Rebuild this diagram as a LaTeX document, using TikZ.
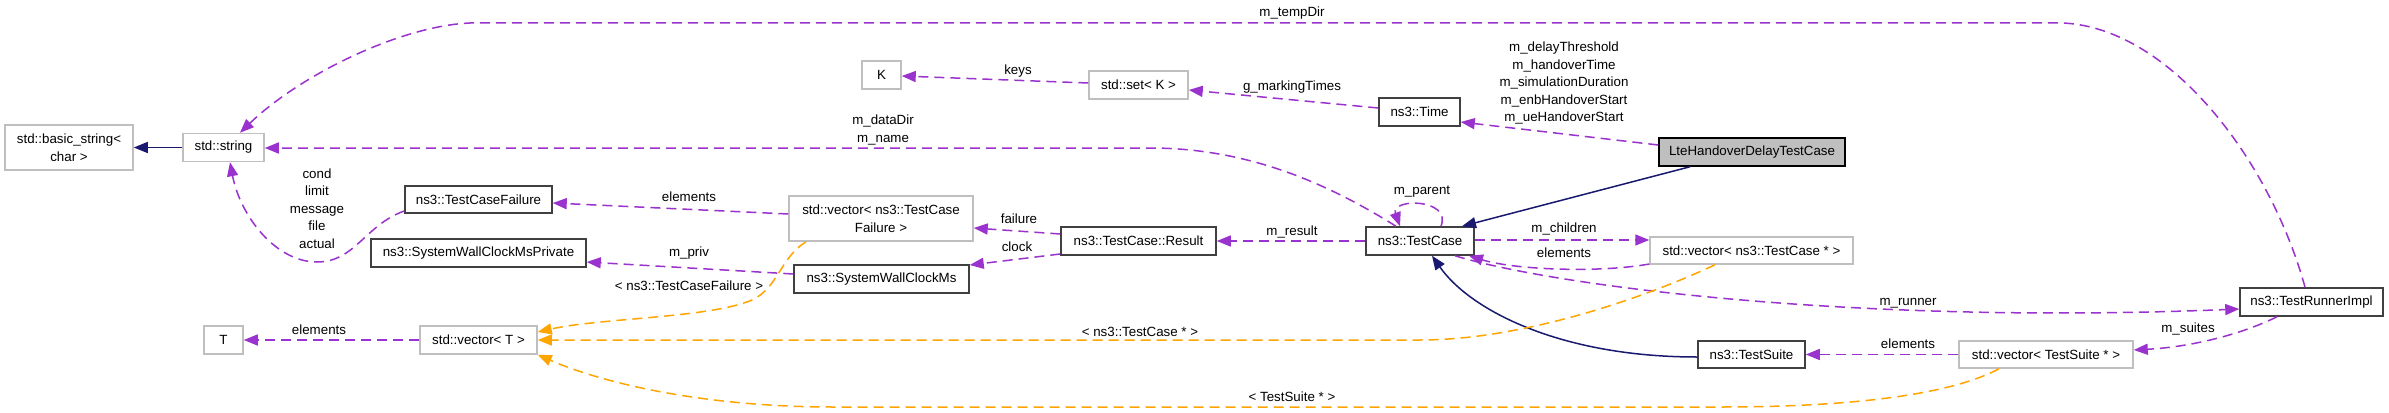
\documentclass[tikz,border=0pt]{standalone}
\usepackage{fontspec}
\setmainfont{Liberation Sans}
\usetikzlibrary{arrows.meta}
\definecolor{memc}{HTML}{9A32CD}
\definecolor{inhc}{HTML}{191970}
\definecolor{tplc}{HTML}{FFA500}
\definecolor{gborder}{HTML}{BFBFBF}
\definecolor{dborder}{HTML}{404040}
\begin{document}
\begin{tikzpicture}[x=1pt,y=-1pt,
  every node/.style={font=\fontsize{13.33}{17.5}\selectfont, inner sep=0pt, align=center},
  box/.style={draw, line width=1.5pt, minimum height=28pt},
  docbox/.style={box, draw=dborder},
  extbox/.style={box, draw=gborder},
  tipstyle/.style={-{Triangle[length=14pt,width=11pt]}},
  memedge/.style={draw=memc, line width=1.5pt, dash pattern=on 10pt off 6pt, tipstyle},
  tpledge/.style={draw=tplc, line width=1.5pt, dash pattern=on 10pt off 6pt, tipstyle},
  inhedge/.style={draw=inhc, line width=1.5pt, tipstyle},
  lbl/.style={text=black}
]
\useasboundingbox (0,0) rectangle (2389,412);
\fill[white] (0,0) rectangle (2389,412);

% nodes
\node[extbox, minimum width=128pt, minimum height=45pt] (basic) at (69,147.5) {std::basic\_string<\\char >};
\node[extbox, minimum width=81pt] (str) at (223.5,147.5) {std::string};
\node[extbox, minimum width=39pt] (K) at (881.5,75) {K};
\node[extbox, minimum width=99pt] (set) at (1138.5,85) {std::set< K >};
\node[docbox, minimum width=81pt] (time) at (1419.5,112) {ns3::Time};
\node[box, fill=gborder, draw=black, minimum width=186pt] (lte) at (1752,152) {LteHandoverDelayTestCase};
\node[docbox, minimum width=108pt] (tc) at (1420,241) {ns3::TestCase};
\node[docbox, minimum width=155pt] (res) at (1138.5,241) {ns3::TestCase::Result};
\node[extbox, minimum width=184pt, minimum height=45pt] (vtcf) at (881,218.5) {std::vector< ns3::TestCase\\Failure >};
\node[docbox, minimum width=147pt, minimum height=27pt] (tcf) at (478.5,199.5) {ns3::TestCaseFailure};
\node[docbox, minimum width=215pt] (swp) at (478.5,253) {ns3::SystemWallClockMsPrivate};
\node[docbox, minimum width=175pt] (swc) at (881.5,279) {ns3::SystemWallClockMs};
\node[extbox, minimum width=39pt] (T) at (223.5,340) {T};
\node[extbox, minimum width=117pt] (vt) at (478.5,340) {std::vector< T >};
\node[extbox, minimum width=203pt, minimum height=27pt] (vtc) at (1751.5,250.5) {std::vector< ns3::TestCase * >};
\node[docbox, minimum width=143pt] (tri) at (2311.5,302) {ns3::TestRunnerImpl};
\node[extbox, minimum width=174pt, minimum height=27pt] (vts) at (2046,354.5) {std::vector< TestSuite * >};
\node[docbox, minimum width=107pt, minimum height=27pt] (ts) at (1751.5,354.5) {ns3::TestSuite};

% inheritance
\draw[inhedge] (str.west) -- (basic.east);
\draw[inhedge] (lte.south -| 1690,0) -- (tc.north -| 1462,0);
\draw[inhedge] (ts.west |- 0,357) .. controls (1560,357) and (1470,310) .. (tc.south -| 1432,0);

% members
\draw[memedge] (tri.north -| 2305,0) .. controls (2270,160) and (2170,28) .. (2063,23) -- (470,23) .. controls (400,26) and (300,75) .. (str.north -| 240,0);
\node[lbl] (ltemp) at (1292,13) {m\_tempDir};

\draw[memedge] (lte.west |- 0,145) -- (time.east |- 0,122);
\node[lbl] (llte) at (1564,83) {m\_delayThreshold\\m\_handoverTime\\m\_simulationDuration\\m\_enbHandoverStart\\m\_ueHandoverStart};

\draw[memedge] (time.west |- 0,108) -- (set.east |- 0,90);
\node[lbl] (lmark) at (1292,87) {g\_markingTimes};

\draw[memedge] (set.west |- 0,83) -- (K.east |- 0,76);
\node[lbl] (lkeys) at (1018,71) {keys};

\draw[memedge] (tc.north -| 1396,0) .. controls (1330,185) and (1250,148) .. (1150,148) -- (str.east |- 0,148);
\node[lbl] (ldata) at (883,130) {m\_dataDir\\m\_name};

\draw[memedge] (tc.north -| 1441,0) .. controls (1452,198) and (1390,198) .. (tc.north -| 1400,0);
\node[lbl] (lparent) at (1422,192) {m\_parent};

\draw[memedge] (tc.west) -- (res.east);
\node[lbl] (lresult) at (1292,232) {m\_result};

\draw[memedge] (res.west |- 0,234) -- (vtcf.east |- 0,228);
\node[lbl] (lfail) at (1019,219) {failure};

\draw[memedge] (res.west |- 0,254) -- (swc.east |- 0,265);
\node[lbl] (lclock) at (1017,247) {clock};

\draw[memedge] (vtcf.west |- 0,214) -- (tcf.east |- 0,203);
\node[lbl] (lel1) at (689,197) {elements};

\draw[memedge] (swc.west |- 0,274) -- (swp.east |- 0,262);
\node[lbl] (lpriv) at (689,253) {m\_priv};

\draw[memedge] (tcf.west |- 0,211) .. controls (365,225) and (355,262) .. (317,262) .. controls (275,262) and (240,215) .. (str.south -| 230,0);
\node[lbl] (lcond) at (317,208.5) {cond\\limit\\message\\file\\actual};

\draw[memedge] (vt.west) -- (T.east);
\node[lbl] (lel2) at (319,330) {elements};

\draw[memedge] (tc.east |- 0,240) -- (vtc.west |- 0,240);
\node[lbl] (lchild) at (1564,229) {m\_children};

\draw[memedge] (vtc.west |- 0,264) .. controls (1600,273) and (1515,270) .. (tc.south -| 1469,0);
\node[lbl] (lel3) at (1564,253) {elements};

\draw[memedge] (tc.south -| 1455,0) .. controls (1550,285) and (1850,325) .. (tri.west |- 0,309);
\node[lbl] (lrunner) at (1908,303) {m\_runner};

\draw[memedge] (tri.south -| 2277,0) .. controls (2240,335) and (2190,347) .. (vts.east |- 0,350);
\node[lbl] (lsuites) at (2188,329) {m\_suites};

\draw[memedge] (vts.west) -- (ts.east);
\node[lbl] (lel4) at (1908,344) {elements};

% templates
\draw[tpledge] (vtcf.south -| 806,0) .. controls (780,258) and (778,288) .. (752,300) .. controls (710,318) and (600,318) .. (vt.east |- 0,332);
\node[lbl] (ltcf) at (689,286) {< ns3::TestCaseFailure >};

\draw[tpledge] (vtc.south -| 1715,0) .. controls (1640,300) and (1520,340) .. (1420,340) -- (vt.east |- 0,340);
\node[lbl] (ltc) at (1140,332) {< ns3::TestCase * >};

\draw[tpledge] (vts.south -| 1999,0) .. controls (1950,395) and (1850,407) .. (1720,407) -- (834,407) .. controls (700,407) and (600,382) .. (vt.south east);
\node[lbl] (lts) at (1292,397) {< TestSuite * >};
\end{tikzpicture}
\end{document}
